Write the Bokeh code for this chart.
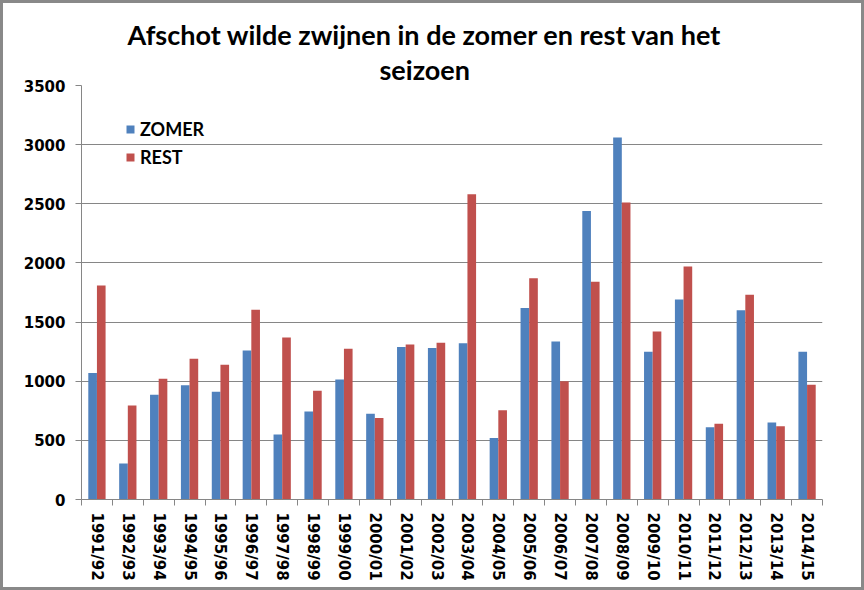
import numpy as np
from bokeh.plotting import figure
from bokeh.models import (ColumnDataSource, Range1d, FixedTicker,
                          Legend, LegendItem, Title)
from bokeh.transform import dodge
from bokeh.embed import file_html
from bokeh.resources import INLINE

seasons = ["1991/92", "1992/93", "1993/94", "1994/95", "1995/96", "1996/97",
           "1997/98", "1998/99", "1999/00", "2000/01", "2001/02", "2002/03",
           "2003/04", "2004/05", "2005/06", "2006/07", "2007/08", "2008/09",
           "2009/10", "2010/11", "2011/12", "2012/13", "2013/14", "2014/15"]
zomer = [1070, 305, 885, 965, 910, 1260, 550, 745, 1015, 725, 1290, 1280,
         1320, 520, 1620, 1335, 2440, 3060, 1250, 1690, 610, 1600, 650, 1250]
rest = [1810, 795, 1020, 1190, 1140, 1605, 1370, 920, 1275, 690, 1310, 1325,
        2580, 755, 1870, 1000, 1840, 2510, 1420, 1970, 640, 1730, 620, 970]
y_ticks = [0, 500, 1000, 1500, 2000, 2500, 3000, 3500]
title_lines = ["Afschot wilde zwijnen in de zomer en rest van het", "seizoen"]

BLUE = "#4F81BD"
RED = "#C0504D"
GRAY = "#868686"
TICK_FONT = "DejaVu Sans"
TEXT_FONT = "Lato"

n = len(seasons)
idx = list(range(n))
src = ColumnDataSource(dict(x=idx, zomer=zomer, rest=rest))

p = figure(width=864, height=590, output_backend="svg", toolbar_location=None,
           x_range=Range1d(-0.5, n - 0.5), y_range=Range1d(0, 3500),
           min_border_left=81, min_border_right=42, min_border_top=85,
           min_border_bottom=91)
p.styles = {"background-color": "white",
            "box-shadow": "inset 0 0 0 3px #898989"}
p.outline_line_color = None
p.background_fill_color = "white"
p.border_fill_color = None

bw = 0.28
r1 = p.vbar(x=dodge("x", -bw / 2), top="zomer", width=bw, source=src,
            fill_color=BLUE, line_color=None)
r2 = p.vbar(x=dodge("x", bw / 2), top="rest", width=bw, source=src,
            fill_color=RED, line_color=None)

# y axis
p.yaxis.ticker = FixedTicker(ticks=y_ticks)
p.yaxis.axis_line_color = GRAY
p.yaxis.major_tick_line_color = GRAY
p.yaxis.major_tick_out = 6
p.yaxis.major_tick_in = 0
p.yaxis.minor_tick_line_color = None
p.yaxis.major_label_text_font = TICK_FONT
p.yaxis.major_label_text_font_style = "bold"
p.yaxis.major_label_text_font_size = "15px"
p.yaxis.major_label_text_color = "black"
p.yaxis.major_label_standoff = 10

# x axis: labels at centres, ticks at boundaries
p.xaxis.ticker = FixedTicker(ticks=idx, minor_ticks=[i - 0.5 for i in range(n + 1)])
p.xaxis.major_label_overrides = {i: s for i, s in enumerate(seasons)}
p.xaxis.major_label_orientation = "vertical"
p.xaxis.axis_line_color = GRAY
p.xaxis.major_tick_line_color = None
p.xaxis.minor_tick_line_color = GRAY
p.xaxis.minor_tick_out = 6
p.xaxis.minor_tick_in = 0
p.xaxis.major_label_text_font = TICK_FONT
p.xaxis.major_label_text_font_style = "bold"
p.xaxis.major_label_text_font_size = "15px"
p.xaxis.major_label_text_color = "black"
p.xaxis.major_label_standoff = 7

p.xgrid.grid_line_color = None
p.ygrid.ticker = FixedTicker(ticks=y_ticks)
p.ygrid.grid_line_color = GRAY
p.ygrid.grid_line_width = 1

legend = Legend(items=[LegendItem(label="ZOMER", renderers=[r1]),
                       LegendItem(label="REST", renderers=[r2])],
                location=(44, 331), padding=0, margin=0, spacing=6,
                glyph_width=10, glyph_height=10, label_height=20,
                label_standoff=5, border_line_color=None,
                background_fill_alpha=0,
                label_text_font=TEXT_FONT, label_text_font_style="bold",
                label_text_font_size="18px", label_text_color="black")
p.add_layout(legend)

# two-line title, stacked above the frame (first added is closest to frame)
p.title.visible = False
for line, off, stand in [(title_lines[1], 298, 0), (title_lines[0], 46, 0)]:
    p.add_layout(Title(text=line, align="left", offset=off, standoff=stand,
                       text_font=TEXT_FONT, text_font_style="bold",
                       text_font_size="27px", text_color="black"), "above")

open("out.html", "w").write(file_html(p, INLINE))
